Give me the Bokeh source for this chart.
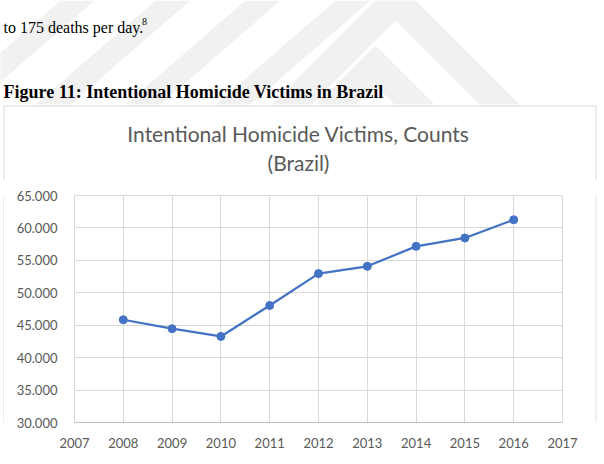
from bokeh.plotting import figure
from bokeh.layouts import column, row
from bokeh.models import FixedTicker, Range1d
from bokeh.core.properties import value
from bokeh.embed import file_html
from bokeh.resources import INLINE

# Intentional homicide victims in Brazil, by year
years = [2008, 2009, 2010, 2011, 2012, 2013, 2014, 2015, 2016]
victims = [45840, 44460, 43270, 48040, 52960, 54080, 57160, 58450, 61260]

x_ticks = [2007, 2008, 2009, 2010, 2011, 2012, 2013, 2014, 2015, 2016, 2017]
x_tick_labels = ["2007", "2008", "2009", "2010", "2011", "2012", "2013", "2014", "2015", "2016", "2017"]
y_ticks = [30000, 35000, 40000, 45000, 50000, 55000, 60000, 65000]
y_tick_labels = ["30.000", "35.000", "40.000", "45.000", "50.000", "55.000", "60.000", "65.000"]

chart_title = ["Intentional Homicide Victims, Counts", "(Brazil)"]
body_text = "to 175 deaths per day."
footnote_mark = "8"
caption = "Figure 11: Intentional Homicide Victims in Brazil"

# page geometry (pixels)
W, H = 604, 464
HEAD_H = 180            # page header + top of the chart box
BOX_L, BOX_R, BOX_T, BOX_B = 3, 595, 105, 461
FRAME_L, FRAME_R, FRAME_T, FRAME_B = 74, 562, 195, 422
BOX_COLOR = "#d9d9d9"
TEXT_GREY = "#595959"
WM = "#f1f1f1"


def blank(width, height, yr):
    f = figure(width=width, height=height, x_range=Range1d(0, width), y_range=yr,
               output_backend="svg", toolbar_location=None,
               x_axis_location=None, y_axis_location=None, min_border=0)
    f.grid.visible = False
    f.outline_line_color = None
    f.background_fill_color = "white"
    f.border_fill_color = "white"
    return f


# ---- header: running text, caption, watermark, chart title ----
head = blank(W, HEAD_H, Range1d(HEAD_H, 0))

# watermark: rising stripes and nested chevrons
rising = [(-60, 34), (35, 35), (125, 35), (215, 35)]
head.patches(xs=[[x0, x0 + w, x0 + w + 120, x0 + 120] for x0, w in rising],
             ys=[[104, 104, 0, 0] for _ in rising], fill_color=WM, line_color=None)
head.patch([271, 395, 519, 479, 395, 311], [104, -20, 104, 104, 20, 104],
           fill_color=WM, line_color=None)
head.patch([316, 375, 434, 394, 375, 356], [104, 45, 104, 104, 85, 104],
           fill_color=WM, line_color=None)

head.text(x=[3], y=[27], text=[body_text], text_font=value("Liberation Serif"),
          text_font_size=value("16px"), text_color="black", text_baseline="alphabetic")
head.text(x=[141.5], y=[21], text=[footnote_mark], text_font=value("Liberation Serif"),
          text_font_size=value("10px"), text_color="black", text_baseline="alphabetic")
head.text(x=[3], y=[91], text=[caption], text_font=value("Liberation Serif"),
          text_font_style="bold", text_font_size=value("18px"), text_color="black",
          text_baseline="alphabetic")

# chart box: top edge and upper part of the sides
head.segment(x0=[BOX_L + 0.5, BOX_L + 0.5, BOX_R + 0.5], y0=[BOX_T + 0.5, BOX_T, BOX_T],
             x1=[BOX_R + 0.5, BOX_L + 0.5, BOX_R + 0.5], y1=[BOX_T + 0.5, HEAD_H, HEAD_H],
             line_color=BOX_COLOR, line_width=1)

head.text(x=[298, 298], y=[133, 162], text=chart_title, text_font=value("Lato"),
          text_font_size=value("21px"), text_color=TEXT_GREY,
          text_align="center", text_baseline="middle")

# ---- chart ----
MID_H = BOX_B - HEAD_H
CH_L = BOX_L + 1
CH_W = BOX_R - CH_L
p = figure(width=CH_W, height=MID_H, x_range=(2007, 2017), y_range=(30000, 65000),
           output_backend="svg", toolbar_location=None,
           min_border_left=FRAME_L - CH_L, min_border_right=CH_L + CH_W - FRAME_R,
           min_border_top=FRAME_T - HEAD_H, min_border_bottom=BOX_B - FRAME_B)
p.background_fill_color = "white"
p.border_fill_color = "white"
p.outline_line_color = BOX_COLOR

p.xaxis.ticker = FixedTicker(ticks=x_ticks)
p.xaxis.major_label_overrides = dict(zip(x_ticks, x_tick_labels))
p.yaxis.ticker = FixedTicker(ticks=y_ticks)
p.yaxis.major_label_overrides = dict(zip(y_ticks, y_tick_labels))
for ax in (p.xaxis, p.yaxis):
    ax.major_tick_line_color = None
    ax.minor_tick_line_color = None
    ax.major_tick_in = 0
    ax.major_tick_out = 0
    ax.major_label_text_font = "Lato"
    ax.major_label_text_font_size = "13px"
    ax.major_label_text_color = TEXT_GREY
p.xaxis.axis_line_color = "#bfbfbf"
p.yaxis.axis_line_color = None
p.yaxis.major_label_standoff = 17
p.xaxis.major_label_standoff = 15
p.xgrid.grid_line_color = BOX_COLOR
p.ygrid.grid_line_color = BOX_COLOR

p.line(years, victims, line_color="#4472c4", line_width=2.25)
p.scatter(years, victims, size=8, fill_color="#4472c4", line_color="#4472c4")

# chart box sides and bottom edge
left_side = blank(CH_L, MID_H, Range1d(MID_H, 0))
left_side.segment(x0=[BOX_L + 0.5], y0=[0], x1=[BOX_L + 0.5], y1=[MID_H],
                  line_color=BOX_COLOR, line_width=1)
right_side = blank(W - BOX_R, MID_H, Range1d(MID_H, 0))
right_side.segment(x0=[0.5], y0=[0], x1=[0.5], y1=[MID_H], line_color=BOX_COLOR, line_width=1)
foot = blank(W, H - BOX_B, Range1d(H - BOX_B, 0))
foot.segment(x0=[BOX_L + 0.5, BOX_L, BOX_R + 0.5], y0=[0.5, 0, 0],
             x1=[BOX_R + 1, BOX_L + 0.5, BOX_R + 0.5], y1=[0.5, 0.5, 0.5],
             line_color=BOX_COLOR, line_width=1)

page = column(head, row(left_side, p, right_side), foot)
open("out.html", "w").write(file_html(page, INLINE))
